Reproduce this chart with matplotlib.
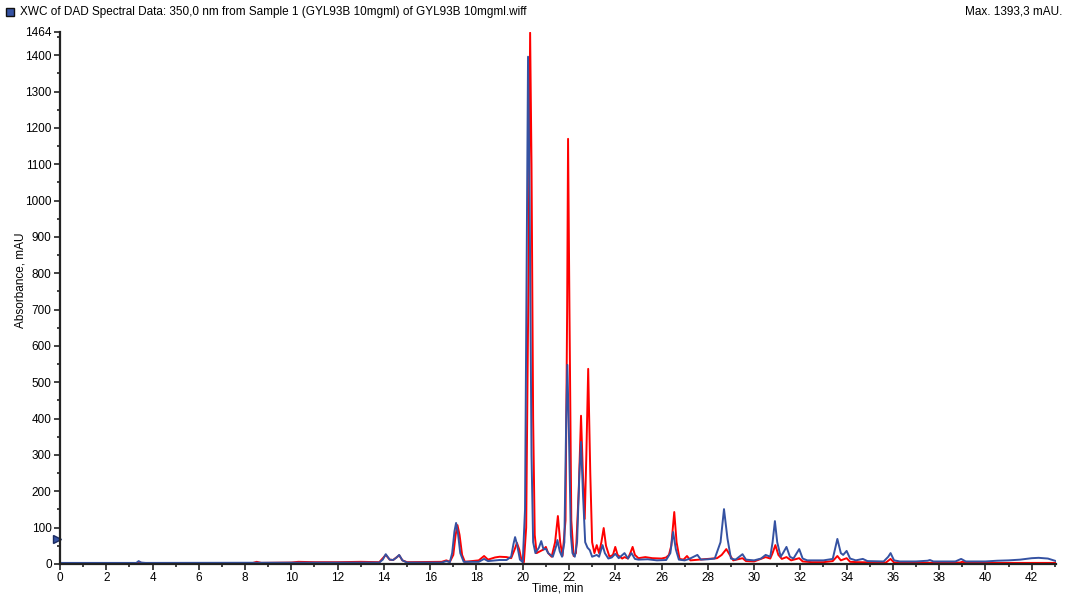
import matplotlib
matplotlib.use("Agg")
import matplotlib.pyplot as plt
from matplotlib.ticker import MultipleLocator, FixedLocator
import matplotlib.transforms as mtransforms
from matplotlib.patches import Rectangle

plt.rcParams['font.family'] = ['Liberation Sans', 'DejaVu Sans']

# ---- data ----
blue_t = [0, 3.3, 3.4, 3.5, 3.7, 13.8, 13.95, 14.08, 14.25, 14.4, 14.55, 14.66, 14.8, 15.0,
          16.5, 16.7, 16.85, 16.95, 17.05, 17.12, 17.2, 17.3, 17.45, 18.1, 18.33, 18.5, 19.0,
          19.3, 19.5, 19.6, 19.67, 19.75, 19.88, 20.0, 20.1, 20.18, 20.23, 20.3, 20.38, 20.45,
          20.55, 20.7, 20.8, 20.9, 21.0, 21.1, 21.2, 21.3, 21.45, 21.5, 21.6, 21.7, 21.8, 21.88,
          21.93, 22.0, 22.08, 22.15, 22.25, 22.35, 22.45, 22.52, 22.6, 22.7, 22.8, 22.9, 23.0,
          23.2, 23.3, 23.45, 23.55, 23.7, 23.85, 24.0, 24.15, 24.4, 24.55, 24.7, 24.85, 25.0,
          25.4, 25.8, 26.2, 26.38, 26.5, 26.62, 26.75, 27.0, 27.2, 27.55, 27.7, 28.0, 28.3,
          28.55, 28.7, 28.85, 29.0, 29.2, 29.5, 29.65, 30.0, 30.3, 30.5, 30.7, 30.8, 30.9, 31.0,
          31.15, 31.25, 31.4, 31.55, 31.7, 31.95, 32.1, 32.3, 33.0, 33.4, 33.6, 33.75, 33.85,
          34.0, 34.15, 34.4, 34.7, 34.9, 35.6, 35.8, 35.9, 36.05, 36.3, 37.0, 37.5, 37.6, 37.75,
          38.7, 38.95, 39.15, 40.0, 40.5, 41.0, 41.5, 42.0, 42.3, 42.7, 43.05]
blue_v = [3, 3, 8, 4, 3, 4, 12, 27, 12, 11, 18, 25, 10, 4,
          4, 8, 5, 30, 90, 113, 85, 30, 6, 6, 14, 8, 11,
          11, 20, 55, 74, 55, 12, 5, 150, 900, 1396, 1000, 300, 60,
          30, 45, 63, 40, 42, 30, 25, 20, 50, 66, 35, 20, 60, 400,
          548, 350, 80, 30, 20, 60, 250, 336, 200, 60, 45, 38, 20,
          25, 20, 52, 30, 15, 18, 28, 16, 30, 15, 30, 14, 12,
          13, 10, 11, 30, 88, 40, 12, 10, 14, 25, 12, 13, 15,
          60, 151, 70, 15, 12, 27, 12, 10, 15, 25, 20, 60, 118, 60,
          20, 30, 47, 20, 15, 41, 15, 10, 10, 14, 69, 30, 25,
          36, 15, 10, 14, 8, 7, 20, 30, 10, 7, 7, 9, 11, 7,
          7, 14, 7, 7, 9, 10, 12, 16, 17, 15, 8]

red_t = [0, 3.3, 3.4, 3.6, 8.3, 8.5, 8.7, 10.0, 10.3, 11.0, 12.0, 13.0, 13.8, 14.08, 14.25,
         14.4, 14.66, 14.8, 15.0, 16.5, 16.7, 16.85, 17.0, 17.1, 17.18, 17.27, 17.38, 17.5,
         18.1, 18.33, 18.5, 18.8, 19.0, 19.3, 19.5, 19.65, 19.75, 19.85, 19.95, 20.05, 20.15,
         20.25, 20.32, 20.38, 20.45, 20.52, 20.6, 20.75, 20.9, 21.0, 21.1, 21.25, 21.4, 21.52,
         21.62, 21.72, 21.85, 21.92, 21.96, 22.02, 22.1, 22.2, 22.3, 22.42, 22.52, 22.6, 22.68,
         22.75, 22.83, 22.92, 23.0, 23.1, 23.2, 23.3, 23.4, 23.5, 23.6, 23.75, 23.9, 24.0, 24.1,
         24.3, 24.4, 24.55, 24.65, 24.75, 24.85, 25.0, 25.3, 25.6, 26.0, 26.2, 26.32, 26.42,
         26.55, 26.65, 26.78, 26.95, 27.1, 27.25, 27.6, 28.0, 28.4, 28.6, 28.8, 28.95, 29.1,
         29.5, 29.65, 30.0, 30.5, 30.7, 30.8, 30.92, 31.05, 31.2, 31.4, 31.6, 31.95, 32.1, 32.5,
         33.0, 33.4, 33.6, 33.75, 34.0, 34.15, 34.5, 35.7, 35.9, 36.05, 37.0, 38.9, 39.0, 39.2,
         43.05]
red_v = [2, 2, 5, 2, 2, 6, 3, 4, 6, 5, 5, 6, 5, 25, 12,
         11, 24, 10, 5, 6, 10, 6, 25, 80, 107, 80, 25, 6,
         10, 22, 12, 18, 20, 19, 16, 40, 58, 40, 10, 5, 100,
         800, 1462, 1100, 400, 80, 30, 35, 40, 47, 30, 20, 60, 132,
         60, 22, 120, 700, 1170, 700, 120, 22, 30, 200, 408, 250, 124,
         300, 537, 250, 60, 30, 52, 30, 60, 99, 50, 20, 25, 47, 25,
         15, 19, 15, 30, 47, 25, 16, 19, 16, 15, 18, 25, 50,
         143, 60, 14, 12, 22, 10, 12, 14, 16, 25, 41, 25, 10,
         16, 8, 7, 19, 15, 30, 52, 25, 14, 19, 10, 16, 7, 5,
         5, 8, 22, 10, 16, 6, 5, 4, 14, 4, 3, 4, 6, 3,
         3]

y_ticks = [0, 100, 200, 300, 400, 500, 600, 700, 800, 900, 1000, 1100, 1200, 1300, 1400, 1464]
x_ticks = list(range(0, 43, 2))

title = "XWC of DAD Spectral Data: 350,0 nm from Sample 1 (GYL93B 10mgml) of GYL93B 10mgml.wiff"
max_text = "Max. 1393,3 mAU."

BLUE = "#3552A2"
RED = "#FF0000"

fig = plt.figure(figsize=(10.68, 5.95), dpi=100)
ax = fig.add_axes([60 / 1068, 31 / 595, 996 / 1068, 532 / 595])

ax.plot(red_t, red_v, color=RED, lw=1.4, solid_joinstyle='round')
ax.plot(blue_t, blue_v, color=BLUE, lw=1.4, solid_joinstyle='round')

ax.set_xlim(0, 43.05)
ax.set_ylim(0, 1464)

for s in ['top', 'right']:
    ax.spines[s].set_visible(False)
for s in ['left', 'bottom']:
    ax.spines[s].set_color('#222222')
    ax.spines[s].set_linewidth(1.6)

ax.yaxis.set_major_locator(FixedLocator(y_ticks))
ax.yaxis.set_minor_locator(MultipleLocator(50))
ax.xaxis.set_major_locator(FixedLocator(x_ticks))
ax.xaxis.set_minor_locator(MultipleLocator(1))
ax.tick_params(which='major', direction='out', length=4, width=1.2, color='#222222',
               labelsize=8.5, pad=2)
ax.tick_params(axis='x', which='major', pad=1.5)
ax.tick_params(which='minor', direction='out', length=2.5, width=1.2, color='#222222')

ax.set_xlabel("Time, min", fontsize=8.5)
ax.xaxis.set_label_coords(0.5, -0.0345)
ax.set_ylabel("Absorbance, mAU", fontsize=8.5)
ax.yaxis.set_label_coords(-0.034, 0.534)

# marker on the y axis
trans = mtransforms.blended_transform_factory(ax.transAxes, ax.transData)
ax.plot([-3 / 996], [70], marker='>', markersize=6, color=BLUE, markeredgecolor='#1a2a60',
        transform=trans, clip_on=False)

# header texts
fig.text(20 / 1068, 1 - 12 / 595, title, fontsize=8.5, va='center', ha='left')
fig.text(1062 / 1068, 1 - 12 / 595, max_text, fontsize=8.5, va='center', ha='right')
fig.patches.append(Rectangle((6 / 1068, 1 - 16 / 595), 8 / 1068, 8 / 595,
                             transform=fig.transFigure, facecolor=BLUE,
                             edgecolor='#111111', lw=1.0))

fig.savefig("out.png", dpi=100)
